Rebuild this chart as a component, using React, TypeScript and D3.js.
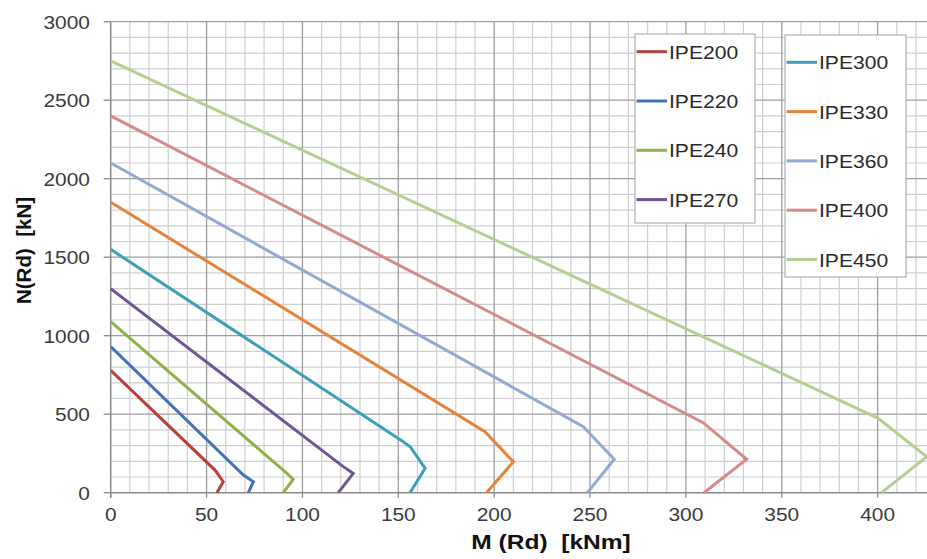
import React from 'react';
import * as d3 from 'd3';

// interaction curves N(Rd) vs M(Rd), one polyline per section, [M, N]
const seriesNames = ['IPE200', 'IPE220', 'IPE240', 'IPE270', 'IPE300', 'IPE330', 'IPE360', 'IPE400', 'IPE450'];
const ipe200: [number, number][] = [[0, 780], [54.4, 144], [58.7, 70], [55.4, 0]];
const ipe220: [number, number][] = [[0, 930], [69.2, 113], [74.4, 70], [71.8, 0]];
const ipe240: [number, number][] = [[0, 1090], [91.8, 124], [95.2, 85], [90, 0]];
const ipe270: [number, number][] = [[0, 1300], [121.3, 166], [126.5, 123], [118.7, 0]];
const ipe300: [number, number][] = [[0, 1550], [152.6, 325], [156.2, 293], [164, 155], [156.1, 0]];
const ipe330: [number, number][] = [[0, 1850], [195.2, 389], [210, 197], [196, 0]];
const ipe360: [number, number][] = [[0, 2100], [246.5, 420], [262.6, 213], [248.6, 0]];
const ipe400: [number, number][] = [[0, 2400], [309, 446], [331.7, 213], [309.4, 0]];
const ipe450: [number, number][] = [[0, 2750], [400.3, 474], [425.6, 229], [402, 0]];
const seriesData = [ipe200, ipe220, ipe240, ipe270, ipe300, ipe330, ipe360, ipe400, ipe450];
const seriesColors = ['#b8403d', '#4273b8', '#8fb04a', '#6f5593', '#3f9fb6', '#e8823a', '#93a9d2', '#d48b8a', '#b5cf93'];

const xTicks = [0, 50, 100, 150, 200, 250, 300, 350, 400];
const yTicks = [0, 500, 1000, 1500, 2000, 2500, 3000];

const W = 927, H = 559;
const font = '"Liberation Sans", Arial, sans-serif';

function Txt({ x, y, s = 1.1, anchor = 'start', size = 19, weight = 'normal', fill = '#3a3a3a', children }: any) {
  return (
    <text transform={`translate(${x},${y}) scale(${s},1)`} textAnchor={anchor}
      fontSize={size} fontWeight={weight} fill={fill} fontFamily={font} style={{ whiteSpace: 'pre' }}>
      {children}
    </text>
  );
}

export default function App() {
  const x = d3.scaleLinear().domain([0, 426]).range([110.7, 927.5]);
  const y = d3.scaleLinear().domain([0, 3000]).range([492.7, 21.7]);
  const line = d3.line<[number, number]>().x(d => x(d[0])).y(d => y(d[1]));

  const xGrid = d3.range(0, 430, 10);
  const yGrid = d3.range(0, 3001, 100);

  const leg1 = seriesNames.slice(0, 4);
  const leg2 = seriesNames.slice(4);

  return (
    <svg width={W} height={H} style={{ position: 'absolute', left: 0, top: 0, background: '#fff' }}>
      <defs>
        <clipPath id="plot"><rect x={x(0)} y={y(3000) - 2} width={W - x(0)} height={y(0) - y(3000) + 4} /></clipPath>
      </defs>
      {/* minor grid */}
      {xGrid.filter(v => v % 50 !== 0).map(v => (
        <line key={'xm' + v} x1={x(v)} x2={x(v)} y1={y(0)} y2={y(3000)} stroke="#cfcfcf" strokeWidth={1.2} />
      ))}
      {yGrid.filter(v => v % 500 !== 0).map(v => (
        <line key={'ym' + v} x1={x(0)} x2={W} y1={y(v)} y2={y(v)} stroke="#cfcfcf" strokeWidth={1.2} />
      ))}
      {/* major grid */}
      {xTicks.filter(v => v > 0).map(v => (
        <line key={'xM' + v} x1={x(v)} x2={x(v)} y1={y(0)} y2={y(3000)} stroke="#9d9d9d" strokeWidth={1.3} />
      ))}
      {yTicks.filter(v => v > 0).map(v => (
        <line key={'yM' + v} x1={x(0)} x2={W} y1={y(v)} y2={y(v)} stroke="#9d9d9d" strokeWidth={1.3} />
      ))}
      {/* axes */}
      <line x1={x(0)} x2={x(0)} y1={y(3000)} y2={y(0) + 5} stroke="#8a8a8a" strokeWidth={1.5} />
      <line x1={x(0)} x2={W} y1={y(0)} y2={y(0)} stroke="#8a8a8a" strokeWidth={1.5} />
      {yTicks.map(v => (
        <line key={'yt' + v} x1={x(0) - 7} x2={x(0)} y1={y(v)} y2={y(v)} stroke="#8a8a8a" strokeWidth={1.3} />
      ))}
      {xTicks.map(v => (
        <line key={'xt' + v} x1={x(v)} x2={x(v)} y1={y(0)} y2={y(0) + 5} stroke="#8a8a8a" strokeWidth={1.3} />
      ))}
      {yTicks.map(v => (
        <Txt key={'yl' + v} x={90} y={y(v) + 7} anchor="end">{String(v)}</Txt>
      ))}
      {xTicks.map(v => (
        <Txt key={'xl' + v} x={x(v)} y={521} anchor="middle">{String(v)}</Txt>
      ))}

      {/* series */}
      <g clipPath="url(#plot)">
        {seriesData.map((d, i) => (
          <path key={seriesNames[i]} d={line(d) || ''} fill="none" stroke={seriesColors[i]}
            strokeWidth={3} strokeLinejoin="miter" />
        ))}
      </g>

      {/* legends */}
      <rect x={635} y={34} width={120} height={189} fill="#fff" stroke="#b5b5b5" strokeWidth={1.3} />
      {leg1.map((n, i) => (
        <g key={n}>
          <line x1={636.5} x2={667} y1={51.7 + i * 49.3} y2={51.7 + i * 49.3} stroke={seriesColors[i]} strokeWidth={3} />
          <Txt x={669} y={51.7 + i * 49.3 + 7} size={18.5} s={1.14} fill="#2a2a2a">{n}</Txt>
        </g>
      ))}
      <rect x={785} y={35} width={121} height={242} fill="#fff" stroke="#b5b5b5" strokeWidth={1.3} />
      {leg2.map((n, i) => (
        <g key={n}>
          <line x1={786.5} x2={817} y1={62.3 + i * 49.3} y2={62.3 + i * 49.3} stroke={seriesColors[i + 4]} strokeWidth={3} />
          <Txt x={819} y={62.3 + i * 49.3 + 7} size={18.5} s={1.14} fill="#2a2a2a">{n}</Txt>
        </g>
      ))}

      {/* axis titles */}
      <Txt x={551} y={549} anchor="middle" size={21} s={1.17} weight="bold" fill="#111">{'M (Rd)  [kNm]'}</Txt>
      <text transform="translate(31,250.5) rotate(-90)" textAnchor="middle" fontSize={20.5} fontWeight="bold"
        fill="#111" fontFamily={font} style={{ whiteSpace: 'pre' }}>{'N(Rd)  [kN]'}</text>
    </svg>
  );
}
